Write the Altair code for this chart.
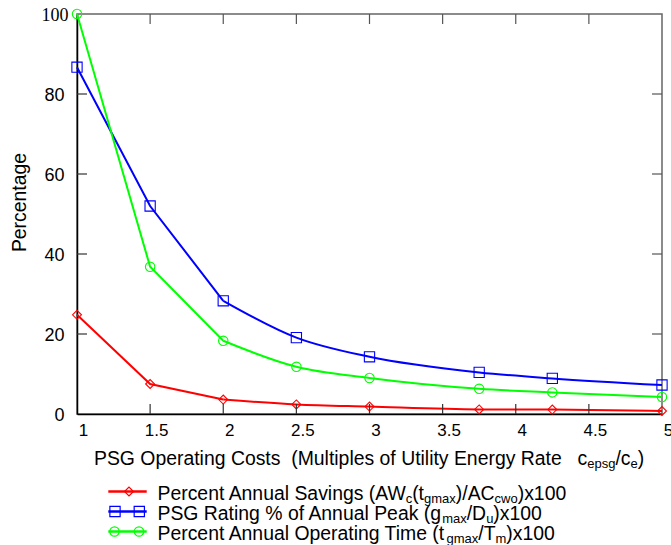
import altair as alt
import pandas as pd

# ---------------- data ----------------
x_vals = [1, 1.5, 2, 2.5, 3, 3.75, 4.25, 5]
savings = [24.8, 7.5, 3.6, 2.4, 1.85, 1.15, 1.1, 0.75]
rating = [86.7, 52.0, 28.3, 19.1, 14.3, 10.4, 8.9, 7.25]
op_time = [100, 36.8, 18.3, 11.8, 9.0, 6.3, 5.4, 4.25]
series_names = ["Savings", "Rating", "Time"]
x_ticks = [1, 1.5, 2, 2.5, 3, 3.5, 4, 4.5, 5]
y_ticks = [0, 20, 40, 60, 80, 100]
x_inner_ticks = [1.5, 2, 2.5, 3, 3.5, 4, 4.5]
y_inner_ticks = [20, 40, 60, 80]

series_values = {"Savings": savings, "Rating": rating, "Time": op_time}
colors = {"Savings": "#ff0000", "Rating": "#0000ff", "Time": "#00ff00"}
shapes = {"Savings": "diamond", "Rating": "square", "Time": "circle"}
sizes = {"Savings": 80, "Rating": 105, "Time": 88}

W, H = 585, 400
SANS = "Liberation Sans"
SERIF = "Liberation Serif"
FM = 19.4  # main font size of titles / legend
FS = 13    # subscript font size

ARIAL = {
    " ": 278, "\u00a0": 278, "!": 278, "%": 889, "(": 333, ")": 333, "/": 278, ".": 278,
    "0": 556, "1": 556, "2": 556, "3": 556, "4": 556, "5": 556, "6": 556, "7": 556, "8": 556, "9": 556,
    "A": 667, "B": 667, "C": 722, "D": 722, "E": 667, "F": 611, "G": 778, "H": 722, "I": 278,
    "J": 500, "K": 667, "L": 556, "M": 833, "N": 722, "O": 778, "P": 667, "Q": 778, "R": 722,
    "S": 667, "T": 611, "U": 722, "V": 667, "W": 944, "X": 667, "Y": 667, "Z": 611,
    "a": 556, "b": 556, "c": 500, "d": 556, "e": 556, "f": 278, "g": 556, "h": 556, "i": 222,
    "j": 222, "k": 500, "l": 222, "m": 833, "n": 556, "o": 556, "p": 556, "q": 556, "r": 333,
    "s": 500, "t": 278, "u": 556, "v": 500, "w": 722, "x": 500, "y": 500, "z": 500,
}


def tw(s, fs):
    return sum(ARIAL.get(ch, 556) for ch in s) * fs / 1000.0


one = pd.DataFrame({"k": [0]})


def txt(s, x, y, fs, font=SANS, **kw):
    return alt.Chart(one).mark_text(
        text=s, fontSize=fs, font=font, align="left", baseline="alphabetic",
        color="black", **kw
    ).encode(x=alt.value(x), y=alt.value(y))


def rich(segments, x0, y0, sub_dy=3.0):
    layers = []
    x = x0
    for seg in segments:
        s, kind = seg[0], seg[1]
        adj = seg[2] if len(seg) > 2 else 0.0
        x += adj
        fs = FM if kind == "m" else FS
        dy = 0 if kind == "m" else sub_dy
        layers.append(txt(s, x, y0 + dy, fs))
        x += tw(s, fs)
    return layers


# ---------------- scales / axes ----------------
xs = alt.Scale(domain=[1, 5], nice=False, zero=False)
ys = alt.Scale(domain=[0, 100], nice=False, zero=True)

x_axis = alt.Axis(
    values=x_ticks, labelExpr="'' + datum.value", ticks=False, grid=False,
    domainColor="black", domainWidth=1.5, labelFont=SANS, labelFontSize=17,
    labelColor="black", labelPadding=8, labelOffset=6, title=None,
    labelFlush=False, labelOverlap=False,
)
y_axis = alt.Axis(
    values=y_ticks, ticks=False, grid=False, domainColor="black", domainWidth=1.5,
    labelFont={"condition": {"test": "datum.value == 100", "value": SERIF}, "value": SANS},
    labelPadding={"condition": {"test": "datum.value == 100", "value": 9}, "value": 13},
    labelFontSize=18, labelColor="black", labelOffset=1, title=None,
    labelFlush=False, labelOverlap=False,
)


def X(field="x"):
    return alt.X(f"{field}:Q", scale=xs, axis=x_axis)


def Y(field="v"):
    return alt.Y(f"{field}:Q", scale=ys, axis=y_axis)


layers = []

# data lines and markers
for name in series_names:
    vals = series_values[name]
    d = pd.DataFrame({"x": x_vals, "v": vals})
    head = d.iloc[:3]
    tail = d.iloc[2:]
    layers.append(alt.Chart(head).mark_line(interpolate="linear", strokeWidth=2, color=colors[name])
                  .encode(x=X(), y=Y()))
    layers.append(alt.Chart(tail).mark_line(interpolate="monotone", strokeWidth=2, color=colors[name])
                  .encode(x=X(), y=Y()))
    layers.append(alt.Chart(d).mark_point(shape=shapes[name], size=sizes[name], filled=False,
                                          strokeWidth=1.1, color=colors[name], opacity=1)
                  .encode(x=X(), y=Y()))

# inner ticks on all four sides
layers.append(alt.Chart(pd.DataFrame({"x": x_inner_ticks})).mark_rule(color="#555555", strokeWidth=1.2)
              .encode(x=X(), y=alt.value(0), y2=alt.value(10)))
layers.append(alt.Chart(pd.DataFrame({"x": x_inner_ticks})).mark_rule(color="#333333", strokeWidth=1.2)
              .encode(x=X(), y=alt.value(H), y2=alt.value(H - 10)))
layers.append(alt.Chart(pd.DataFrame({"v": y_inner_ticks})).mark_rule(color="#333333", strokeWidth=1.2)
              .encode(y=Y(), x=alt.value(0), x2=alt.value(10)))
layers.append(alt.Chart(pd.DataFrame({"v": y_inner_ticks})).mark_rule(color="#555555", strokeWidth=1.2)
              .encode(y=Y(), x=alt.value(W), x2=alt.value(W - 10)))

# y title
layers.append(alt.Chart(one).mark_text(text="Percentage", fontSize=FM, font=SANS, angle=270,
                                       align="center", baseline="middle", color="black")
              .encode(x=alt.value(-57), y=alt.value(188.5)))

# x title
layers.append(txt("PSG Operating Costs\u00a0\u00a0(Multiples of Utility Energy Rate", 17, 451, FM))
layers += rich([("c", "m"), ("epsg", "s"), ("/c", "m"), ("e", "s"), (")", "m")], 500.5, 451, sub_dy=2.5)

# legend
leg_rows = [477.5, 497.5, 517.5]
leg_base = [485.5, 506, 526]
leg_texts = [
    [("Percent Annual Savings (AW", "m"), ("c", "s", -2.0), ("(t", "m"), ("gmax", "s"),
     (")/AC", "m"), ("cwo", "s"), (")x100", "m")],
    [("PSG Rating % of Annual Peak (g", "m"), ("max", "s"), ("/D", "m"), ("u", "s"), (")x100", "m")],
    [("Percent Annual Operating Time (t", "m"), ("gmax", "s"), ("/T", "m"), ("m", "s"), (")x100", "m")],
]
leg_marker_x = {"Savings": [52], "Rating": [38, 62.3], "Time": [37.5, 62]}
for name, ry, rb, segs in zip(series_names, leg_rows, leg_base, leg_texts):
    layers.append(alt.Chart(one).mark_rule(color=colors[name], strokeWidth=2.5)
                  .encode(x=alt.value(31.3), x2=alt.value(69.7), y=alt.value(ry)))
    for mx in leg_marker_x[name]:
        layers.append(alt.Chart(one).mark_point(shape=shapes[name], size=sizes[name], filled=False,
                                                strokeWidth=1.2, color=colors[name], opacity=1)
                      .encode(x=alt.value(mx), y=alt.value(ry)))
    layers += rich(segs, 80.5, rb)

chart = alt.layer(*layers).properties(
    width=W, height=H,
    autosize=alt.AutoSizeParams(type="none"),
    padding={"left": 77, "top": 14, "right": 9, "bottom": 131},
    background="white",
).configure_view(stroke="#666666", strokeWidth=1.5)

chart.save("out.html", embed_options={"renderer": "svg", "actions": False})
